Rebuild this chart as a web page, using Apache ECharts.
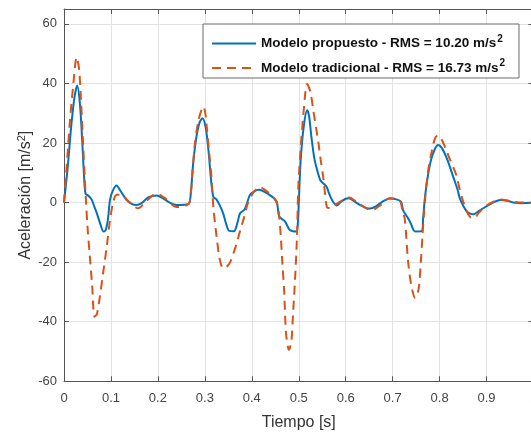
<!DOCTYPE html>
<html>
<head>
<meta charset="utf-8">
<script src="https://cdn.jsdelivr.net/npm/echarts@6/dist/echarts.min.js"></script>
<style>html,body{margin:0;padding:0;background:#fff}#c{width:531px;height:432px}</style>
</head>
<body>
<div id="c"></div>
<script>
var xTicks = [0, 0.1, 0.2, 0.3, 0.4, 0.5, 0.6, 0.7, 0.8, 0.9, 1];
var yTicks = [-60, -40, -20, 0, 20, 40, 60];
var seriesNames = ['Modelo propuesto - RMS = 10.20 m/s', 'Modelo tradicional - RMS = 16.73 m/s'];

var tProp = [0,0.008,0.015,0.022,0.028,0.034,0.039,0.043,0.046,0.052,0.059,0.065,0.07,0.078,0.084,0.089,0.094,0.098,0.104,0.112,0.12,0.133,0.145,0.155,0.165,0.18,0.197,0.21,0.225,0.24,0.265,0.27,0.275,0.282,0.289,0.295,0.302,0.308,0.313,0.318,0.325,0.332,0.339,0.346,0.352,0.362,0.369,0.375,0.385,0.396,0.405,0.416,0.428,0.443,0.453,0.458,0.464,0.471,0.481,0.495,0.498,0.504,0.511,0.518,0.522,0.527,0.533,0.539,0.546,0.552,0.559,0.566,0.573,0.581,0.59,0.6,0.607,0.618,0.63,0.643,0.652,0.665,0.68,0.694,0.71,0.718,0.722,0.726,0.737,0.748,0.762,0.765,0.769,0.775,0.782,0.79,0.797,0.805,0.815,0.823,0.83,0.838,0.843,0.85,0.858,0.865,0.872,0.882,0.893,0.91,0.929,0.945,0.957,0.975,1.0];
var vProp = [0,12,25,35,39.3,33,20,8,3,2.3,1,-1.5,-3.6,-7.5,-9.7,-9.2,-5,0.9,4,5.7,4,0.9,-0.5,-0.8,-0.2,1.8,2.4,1.5,0,-0.8,-0.5,3,13,22,27,28.3,25,17,8,2,1,-1,-3.6,-7.5,-9.5,-9.6,-7,-3.6,-2.2,2.6,3.8,4.3,3.5,2,0.3,-4.5,-5.5,-6.4,-9.2,-9.7,-7,14,26,31,29,22,15,11,7.5,6.5,5.4,2.5,0.3,-1.0,0.3,1.3,1.5,0.5,-0.8,-1.8,-2.0,-1.2,0.5,1.4,1.0,0.3,-2.5,-3.6,-6.4,-9.7,-9.6,-5,2,9,14.5,18,19.3,18.3,15,11.5,8.2,4.5,1.5,-1,-3,-3.7,-3.9,-3,-1.9,-0.3,0.9,0.6,0,-0.2,0];

var tTrad = [0,0.007,0.013,0.02,0.027,0.032,0.036,0.04,0.044,0.047,0.05,0.055,0.06,0.065,0.07,0.076,0.083,0.091,0.098,0.105,0.112,0.123,0.135,0.158,0.175,0.197,0.215,0.24,0.265,0.27,0.275,0.279,0.287,0.297,0.301,0.304,0.309,0.314,0.318,0.325,0.332,0.339,0.347,0.354,0.361,0.368,0.375,0.382,0.392,0.404,0.417,0.43,0.445,0.453,0.458,0.462,0.465,0.469,0.473,0.479,0.484,0.488,0.492,0.496,0.499,0.504,0.51,0.518,0.525,0.531,0.537,0.542,0.547,0.552,0.556,0.56,0.566,0.575,0.59,0.607,0.625,0.655,0.675,0.694,0.715,0.72,0.726,0.733,0.74,0.748,0.755,0.76,0.764,0.769,0.775,0.783,0.79,0.796,0.803,0.812,0.822,0.83,0.836,0.842,0.85,0.858,0.866,0.873,0.885,0.9,0.93,0.95,0.97,1.0];
var vTrad = [0,15,28,40,48.8,45,35,22,9,0,-8,-18,-28,-38.3,-37.5,-32,-24,-14.8,-5.8,0.3,2.6,2.6,0.8,-1.9,0.5,3.0,1.5,-1.5,-0.5,3,13,20,28,32.2,30,25.5,17,8.7,-1.3,-11.4,-19.2,-22,-21.5,-20,-17,-13.6,-9.5,-5.8,0,3.5,5.2,4,2,0,-4,-12,-20,-30,-44,-49.4,-47,-37,-26,-12.5,5,18,30,39.8,37,31,25,20,14,8.7,3,-1.5,-1.8,-1,0.5,1.7,0,-2.5,-0.8,1.5,0.8,-2,-5.8,-20,-28,-32,-29.3,-20,-10,1,10,17,21.5,22.5,21.5,18.5,14.5,11.5,9,5,0.5,-3,-5,-5.2,-3.2,-1,1,0.5,0,0];

function pairs(t, v) { return t.map(function (x, i) { return [x, v[i]]; }); }

var FONT = 'Liberation Sans, Arial, Helvetica, sans-serif';
var chart = echarts.init(document.getElementById('c'), null, {renderer: 'canvas'});
var axisCol = '#555';
var gridCol = '#e3e3e3';

chart.setOption({
  animation: false,
  backgroundColor: '#fff',
  grid: {left: 64, top: 9, width: 469.5, bottom: 50.7, containLabel: false, outerBoundsMode: 'none'},
  legend: {
    orient: 'vertical',
    left: 203, top: 24,
    itemWidth: 44, itemHeight: 14, itemGap: 8,
    padding: [10, 14, 3, 8],
    backgroundColor: '#fff',
    borderColor: '#6a6a6a', borderWidth: 1,
    itemStyle: {opacity: 0},
    data: seriesNames,
    formatter: function (n) { return '{a|' + n + '}{s|2}'; },
    textStyle: {
      fontFamily: FONT, fontWeight: 'bold', fontSize: 13.5, color: '#111',
      rich: {
        a: {fontFamily: FONT, fontWeight: 'bold', fontSize: 13.5, color: '#111'},
        s: {fontFamily: FONT, fontWeight: 'bold', fontSize: 10, color: '#111', padding: [0, 0, 9, 1]}
      }
    }
  },
  xAxis: [{
    type: 'value', min: 0, max: 1, interval: 0.1,
    name: 'Tiempo [s]', nameLocation: 'middle', nameGap: 33, nameMoveOverlap: false,
    nameTextStyle: {fontFamily: FONT, fontSize: 16, color: '#333'},
    axisLine: {onZero: false, lineStyle: {color: axisCol, width: 1}},
    axisTick: {inside: true, length: 5, lineStyle: {color: axisCol}},
    axisLabel: {fontFamily: FONT, fontSize: 13, color: '#444', margin: 11,
      formatter: function (v) { return xTicks.indexOf(Math.round(v * 10) / 10) >= 0 ? String(Math.round(v * 10) / 10) : ''; }},
    splitLine: {show: true, lineStyle: {color: gridCol, width: 1}}
  }, {
    type: 'value', min: 0, max: 1, interval: 0.1, position: 'top',
    axisLine: {onZero: false, lineStyle: {color: axisCol, width: 1}},
    axisTick: {inside: true, length: 5, lineStyle: {color: axisCol}},
    axisLabel: {show: false}, splitLine: {show: false}
  }],
  yAxis: [{
    type: 'value', min: -60, max: 65, interval: 20,
    name: '{a|Aceleración [m/s}{s|2}{a|]}', nameLocation: 'middle', nameGap: 28, nameMoveOverlap: false,
    nameTextStyle: {fontFamily: FONT, fontSize: 16, color: '#333',
      rich: {a: {fontFamily: FONT, fontSize: 16, color: '#333'},
             s: {fontFamily: FONT, fontSize: 11, color: '#333', padding: [0, 0, 9, 0]}}},
    axisLine: {onZero: false, lineStyle: {color: axisCol, width: 1}},
    axisTick: {inside: true, length: 5, lineStyle: {color: axisCol}},
    axisLabel: {fontFamily: FONT, fontSize: 13, color: '#444', margin: 7, showMaxLabel: false,
      formatter: function (v) { return yTicks.indexOf(v) >= 0 ? String(v) : ''; }},
    splitLine: {show: true, lineStyle: {color: gridCol, width: 1}}
  }, {
    type: 'value', min: -60, max: 65, interval: 20, position: 'right',
    axisLine: {onZero: false, lineStyle: {color: axisCol, width: 1}},
    axisTick: {inside: true, length: 5, lineStyle: {color: axisCol}},
    axisLabel: {show: false}, splitLine: {show: false}
  }],
  series: [{
    name: seriesNames[0], type: 'line', data: pairs(tProp, vProp),
    symbol: 'none', smooth: 0.3,
    lineStyle: {color: '#0072BD', width: 2},
    itemStyle: {color: '#0072BD'}
  }, {
    name: seriesNames[1], type: 'line', data: pairs(tTrad, vTrad),
    symbol: 'none', smooth: 0.3,
    lineStyle: {color: '#D95319', width: 2, type: [9, 6]},
    itemStyle: {color: '#D95319'}
  }]
});
</script>
</body>
</html>
